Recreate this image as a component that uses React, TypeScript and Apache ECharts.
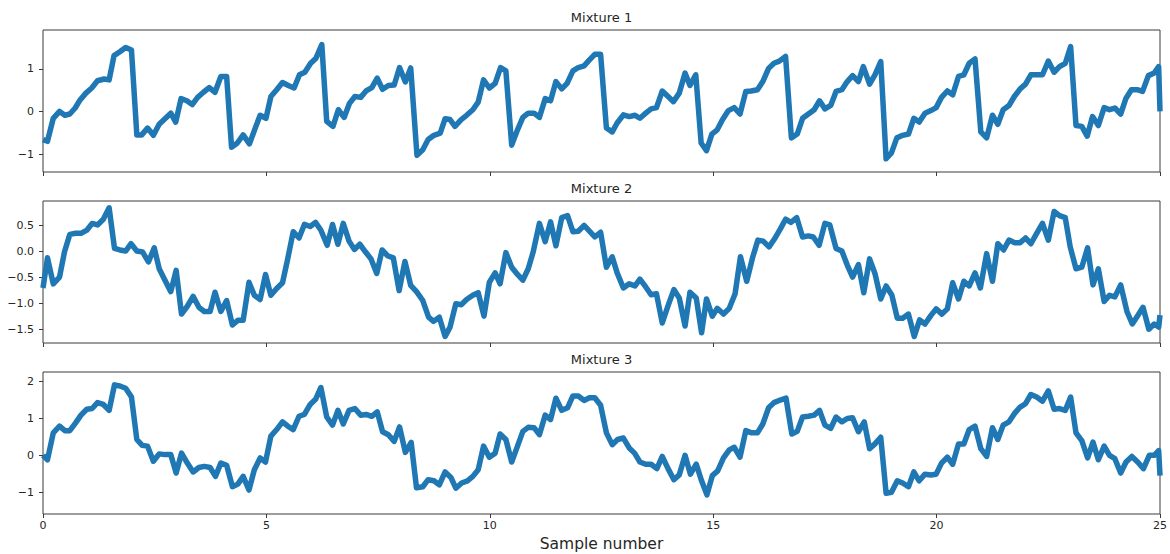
import React, { useEffect, useRef } from "react";
import * as echarts from "echarts";

// Observed mixtures: [time, amplitude]
const mixture1: [number, number][] = [
  [0, -0.66], [0.1, -0.7], [0.23, -0.16], [0.37, 0.0], [0.49, -0.09], [0.6, -0.06], [0.72, 0.08], [0.83, 0.27],
  [0.96, 0.43], [1.09, 0.55], [1.22, 0.72], [1.37, 0.76], [1.48, 0.74], [1.59, 1.31], [1.72, 1.4], [1.85, 1.5],
  [1.98, 1.44], [2.1, -0.55], [2.21, -0.55], [2.34, -0.39], [2.47, -0.56], [2.6, -0.3], [2.73, -0.17], [2.86, -0.04],
  [2.97, -0.25], [3.09, 0.3], [3.22, 0.25], [3.34, 0.16], [3.46, 0.33], [3.59, 0.45], [3.72, 0.56], [3.85, 0.45],
  [3.98, 0.82], [4.11, 0.82], [4.22, -0.84], [4.35, -0.74], [4.48, -0.55], [4.62, -0.76], [4.75, -0.39], [4.86, -0.09],
  [4.99, -0.16], [5.1, 0.35], [5.23, 0.51], [5.36, 0.68], [5.49, 0.61], [5.62, 0.55], [5.74, 0.86], [5.86, 0.92],
  [5.99, 1.13], [6.11, 1.25], [6.24, 1.57], [6.35, -0.23], [6.49, -0.35], [6.61, 0.04], [6.74, -0.14], [6.86, 0.19],
  [6.98, 0.35], [7.11, 0.33], [7.23, 0.48], [7.36, 0.56], [7.48, 0.78], [7.6, 0.52], [7.73, 0.61], [7.86, 0.62],
  [7.98, 1.03], [8.11, 0.69], [8.23, 1.02], [8.37, -1.03], [8.5, -0.9], [8.62, -0.66], [8.75, -0.56], [8.89, -0.51],
  [9.0, -0.17], [9.11, -0.19], [9.22, -0.35], [9.36, -0.19], [9.48, -0.09], [9.62, 0.04], [9.74, 0.22], [9.86, 0.74],
  [9.99, 0.55], [10.12, 0.66], [10.24, 1.03], [10.36, 0.95], [10.49, -0.79], [10.62, -0.43], [10.74, -0.14], [10.86, -0.04],
  [10.99, -0.04], [11.11, -0.14], [11.24, 0.3], [11.36, 0.25], [11.48, 0.7], [11.61, 0.53], [11.73, 0.66], [11.86, 0.95],
  [11.98, 1.03], [12.11, 1.07], [12.23, 1.21], [12.35, 1.34], [12.48, 1.34], [12.61, -0.39], [12.74, -0.48], [12.85, -0.27],
  [12.99, -0.08], [13.12, -0.12], [13.25, -0.09], [13.36, -0.16], [13.49, -0.04], [13.61, 0.06], [13.73, 0.09], [13.86, 0.48],
  [13.99, 0.35], [14.11, 0.23], [14.24, 0.43], [14.37, 0.9], [14.48, 0.61], [14.61, 0.86], [14.73, -0.74], [14.85, -0.92],
  [14.97, -0.53], [15.09, -0.43], [15.21, -0.19], [15.34, 0.02], [15.47, 0.09], [15.6, -0.06], [15.73, 0.47], [15.85, 0.48],
  [15.99, 0.51], [16.11, 0.7], [16.24, 1.01], [16.36, 1.13], [16.48, 1.18], [16.62, 1.29], [16.75, -0.62], [16.88, -0.53],
  [17.0, -0.16], [17.13, -0.06], [17.26, 0.04], [17.38, 0.25], [17.5, 0.06], [17.63, 0.14], [17.75, 0.47], [17.88, 0.51],
  [18.0, 0.7], [18.12, 0.84], [18.25, 0.7], [18.36, 1.05], [18.5, 0.64], [18.62, 0.86], [18.75, 1.17], [18.87, -1.11],
  [18.99, -0.97], [19.11, -0.62], [19.24, -0.56], [19.37, -0.53], [19.49, -0.16], [19.61, -0.25], [19.74, -0.04], [19.87, 0.02],
  [19.99, 0.09], [20.11, 0.33], [20.24, 0.48], [20.36, 0.39], [20.49, 0.82], [20.61, 0.86], [20.73, 1.13], [20.86, 1.23],
  [20.99, -0.48], [21.12, -0.62], [21.25, -0.09], [21.37, -0.3], [21.49, 0.04], [21.62, 0.14], [21.74, 0.35], [21.87, 0.53],
  [21.99, 0.64], [22.11, 0.86], [22.24, 0.86], [22.37, 0.86], [22.5, 1.18], [22.63, 0.92], [22.75, 1.05], [22.88, 1.13],
  [23.0, 1.52], [23.12, -0.33], [23.25, -0.35], [23.37, -0.58], [23.49, -0.12], [23.62, -0.33], [23.75, 0.09], [23.87, 0.04],
  [23.99, 0.08], [24.12, -0.06], [24.24, 0.31], [24.36, 0.51], [24.49, 0.51], [24.61, 0.47], [24.74, 0.84], [24.87, 0.9],
  [24.97, 1.05], [25.0, 0.0],
];

const mixture2: [number, number][] = [
  [0, -0.7], [0.1, -0.12], [0.23, -0.62], [0.37, -0.49], [0.48, -0.01], [0.6, 0.33], [0.73, 0.35], [0.85, 0.35],
  [0.98, 0.41], [1.1, 0.54], [1.22, 0.51], [1.35, 0.62], [1.48, 0.84], [1.6, 0.06], [1.72, 0.03], [1.85, 0.01],
  [1.97, 0.15], [2.1, 0.01], [2.23, -0.01], [2.36, -0.2], [2.49, 0.07], [2.6, -0.33], [2.73, -0.55], [2.86, -0.77],
  [2.98, -0.36], [3.1, -1.2], [3.23, -1.05], [3.36, -0.86], [3.49, -1.07], [3.61, -1.15], [3.74, -1.15], [3.85, -0.78],
  [3.98, -1.15], [4.11, -0.94], [4.24, -1.41], [4.36, -1.32], [4.48, -1.32], [4.61, -0.59], [4.73, -0.84], [4.86, -0.92],
  [4.98, -0.44], [5.1, -0.84], [5.23, -0.71], [5.36, -0.6], [5.47, -0.17], [5.6, 0.38], [5.73, 0.26], [5.85, 0.52],
  [5.98, 0.48], [6.1, 0.56], [6.22, 0.41], [6.36, 0.12], [6.48, 0.52], [6.6, 0.14], [6.72, 0.54], [6.85, 0.2],
  [6.97, 0.04], [7.09, 0.14], [7.22, -0.01], [7.34, -0.14], [7.47, -0.42], [7.59, 0.03], [7.71, -0.08], [7.84, -0.12],
  [7.97, -0.75], [8.1, -0.19], [8.23, -0.65], [8.36, -0.77], [8.5, -0.94], [8.63, -1.26], [8.74, -1.34], [8.87, -1.26],
  [9.0, -1.63], [9.11, -1.45], [9.24, -1.0], [9.36, -1.02], [9.48, -0.92], [9.62, -0.84], [9.74, -0.79], [9.87, -1.24],
  [9.99, -0.59], [10.12, -0.41], [10.23, -0.62], [10.36, -0.02], [10.49, -0.3], [10.62, -0.44], [10.74, -0.55], [10.86, -0.33],
  [10.97, -0.01], [11.11, 0.54], [11.24, 0.19], [11.36, 0.57], [11.48, 0.11], [11.61, 0.65], [11.74, 0.69], [11.86, 0.38],
  [11.98, 0.39], [12.11, 0.5], [12.23, 0.39], [12.35, 0.28], [12.48, 0.37], [12.61, -0.3], [12.74, -0.1], [12.85, -0.41],
  [12.99, -0.7], [13.12, -0.62], [13.25, -0.66], [13.36, -0.53], [13.49, -0.68], [13.61, -0.83], [13.73, -0.81], [13.86, -1.37],
  [13.99, -1.04], [14.12, -0.73], [14.24, -0.89], [14.37, -1.43], [14.48, -0.78], [14.62, -0.89], [14.74, -1.56], [14.85, -0.91],
  [14.98, -1.24], [15.09, -1.09], [15.23, -1.2], [15.36, -1.09], [15.49, -0.81], [15.61, -0.1], [15.75, -0.57], [15.88, -0.12],
  [16.0, 0.22], [16.12, 0.2], [16.25, 0.09], [16.37, 0.24], [16.5, 0.43], [16.62, 0.62], [16.74, 0.56], [16.87, 0.65],
  [17.0, 0.28], [17.13, 0.3], [17.24, 0.28], [17.37, 0.12], [17.5, 0.54], [17.61, 0.51], [17.75, 0.06], [17.88, 0.01],
  [18.0, -0.26], [18.12, -0.49], [18.25, -0.25], [18.37, -0.79], [18.5, -0.14], [18.62, -0.42], [18.75, -0.91], [18.87, -0.66],
  [19.0, -0.84], [19.12, -1.28], [19.24, -1.28], [19.37, -1.2], [19.5, -1.63], [19.62, -1.31], [19.74, -1.39], [19.87, -1.23],
  [19.99, -1.1], [20.12, -1.2], [20.24, -1.1], [20.36, -0.6], [20.49, -0.91], [20.61, -0.57], [20.73, -0.66], [20.86, -0.41],
  [20.98, -0.7], [21.12, -0.04], [21.25, -0.57], [21.37, 0.15], [21.5, 0.03], [21.62, 0.22], [21.75, 0.17], [21.87, 0.17],
  [21.99, 0.26], [22.11, 0.15], [22.24, 0.35], [22.37, 0.54], [22.5, 0.22], [22.63, 0.77], [22.75, 0.69], [22.88, 0.65],
  [22.99, 0.09], [23.12, -0.33], [23.25, -0.3], [23.38, 0.07], [23.5, -0.64], [23.62, -0.33], [23.75, -0.96], [23.87, -0.84],
  [23.99, -0.87], [24.12, -0.64], [24.26, -1.15], [24.38, -1.39], [24.5, -1.23], [24.62, -1.07], [24.75, -1.49], [24.87, -1.39],
  [24.97, -1.45], [25.0, -1.22],
];

const mixture3: [number, number][] = [
  [0, 0.0], [0.1, -0.12], [0.23, 0.61], [0.37, 0.79], [0.49, 0.67], [0.6, 0.67], [0.73, 0.88], [0.85, 1.09],
  [0.98, 1.25], [1.1, 1.27], [1.22, 1.43], [1.35, 1.38], [1.48, 1.22], [1.6, 1.91], [1.72, 1.88], [1.85, 1.82],
  [1.98, 1.58], [2.1, 0.43], [2.22, 0.27], [2.34, 0.25], [2.47, -0.16], [2.6, 0.04], [2.73, 0.02], [2.86, 0.02],
  [2.98, -0.48], [3.1, 0.06], [3.23, -0.21], [3.36, -0.45], [3.49, -0.33], [3.61, -0.3], [3.74, -0.33], [3.86, -0.57],
  [3.98, -0.21], [4.11, -0.27], [4.24, -0.85], [4.36, -0.78], [4.48, -0.57], [4.61, -0.94], [4.73, -0.39], [4.86, -0.07],
  [4.98, -0.18], [5.1, 0.52], [5.23, 0.7], [5.36, 0.91], [5.48, 0.79], [5.6, 0.7], [5.73, 1.06], [5.85, 1.11],
  [5.98, 1.38], [6.1, 1.52], [6.22, 1.84], [6.35, 1.04], [6.48, 0.82], [6.6, 1.22], [6.72, 0.85], [6.85, 1.22],
  [6.98, 1.27], [7.11, 1.09], [7.23, 1.11], [7.36, 1.06], [7.48, 1.18], [7.6, 0.64], [7.73, 0.56], [7.86, 0.38],
  [7.98, 0.77], [8.11, 0.08], [8.24, 0.35], [8.36, -0.88], [8.5, -0.85], [8.62, -0.66], [8.75, -0.69], [8.87, -0.8],
  [9.0, -0.45], [9.13, -0.6], [9.24, -0.89], [9.37, -0.75], [9.5, -0.69], [9.62, -0.57], [9.74, -0.39], [9.86, 0.25],
  [9.99, -0.05], [10.12, 0.06], [10.23, 0.58], [10.36, 0.43], [10.49, -0.18], [10.62, 0.25], [10.74, 0.65], [10.86, 0.76],
  [10.99, 0.75], [11.11, 0.56], [11.24, 1.09], [11.36, 0.97], [11.48, 1.55], [11.61, 1.22], [11.74, 1.29], [11.86, 1.61],
  [11.98, 1.61], [12.11, 1.49], [12.23, 1.56], [12.35, 1.56], [12.48, 1.36], [12.61, 0.61], [12.74, 0.29], [12.86, 0.43],
  [12.99, 0.47], [13.12, 0.2], [13.24, 0.06], [13.36, -0.18], [13.49, -0.24], [13.61, -0.24], [13.74, -0.36], [13.86, -0.03],
  [13.99, -0.36], [14.12, -0.66], [14.24, -0.53], [14.37, 0.0], [14.49, -0.51], [14.62, -0.24], [14.74, -0.69], [14.86, -1.07],
  [14.98, -0.55], [15.1, -0.42], [15.23, -0.07], [15.36, 0.15], [15.47, 0.22], [15.6, -0.05], [15.73, 0.67], [15.86, 0.61],
  [15.99, 0.61], [16.11, 0.85], [16.24, 1.29], [16.36, 1.43], [16.5, 1.5], [16.63, 1.55], [16.76, 0.58], [16.88, 0.65],
  [17.0, 1.04], [17.13, 1.06], [17.26, 1.09], [17.38, 1.22], [17.5, 0.82], [17.63, 0.73], [17.75, 1.04], [17.88, 0.91],
  [18.0, 1.0], [18.12, 1.02], [18.25, 0.64], [18.38, 0.91], [18.5, 0.18], [18.62, 0.31], [18.75, 0.49], [18.87, -1.03],
  [18.99, -1.0], [19.12, -0.69], [19.24, -0.75], [19.37, -0.85], [19.49, -0.45], [19.61, -0.69], [19.74, -0.51], [19.87, -0.53],
  [19.99, -0.51], [20.11, -0.21], [20.24, -0.05], [20.36, -0.24], [20.49, 0.31], [20.61, 0.31], [20.73, 0.7], [20.86, 0.79],
  [20.99, 0.18], [21.12, -0.03], [21.25, 0.75], [21.37, 0.43], [21.49, 0.82], [21.62, 0.91], [21.74, 1.13], [21.87, 1.31],
  [21.99, 1.4], [22.11, 1.65], [22.24, 1.58], [22.37, 1.47], [22.5, 1.75], [22.63, 1.25], [22.75, 1.27], [22.88, 1.22],
  [23.0, 1.58], [23.12, 0.61], [23.25, 0.4], [23.38, -0.07], [23.5, 0.36], [23.62, -0.12], [23.75, 0.25], [23.87, 0.0],
  [23.99, -0.09], [24.12, -0.48], [24.24, -0.18], [24.37, -0.03], [24.5, -0.18], [24.63, -0.36], [24.76, 0.0], [24.87, 0.0],
  [24.97, 0.13], [25.0, -0.55],
];

const panelTitles = ["Mixture 1", "Mixture 2", "Mixture 3"];
const xTicks = [0, 5, 10, 15, 20, 25];
const yTicks1 = [-1, 0, 1];
const yTicks2 = [-1.5, -1.0, -0.5, 0.0, 0.5];
const yTicks3 = [-1, 0, 1, 2];
const yRange1 = [-1.42, 1.91];
const yRange2 = [-1.755, 0.97];
const yRange3 = [-1.59, 2.26];
const xLabel = "Sample number";

const FONT = "DejaVu Sans";
const INK = "#262626";
const SPINE = "#3a3a3a";
const LINE = "#1f77b4";

const PLOT_LEFT = 43;
const PLOT_WIDTH = 1117;
const PLOT_HEIGHT = 142;
const PLOT_TOPS = [30, 201, 372];

const minus = (s: string) => s.replace("-", "\u2212");

export default function App() {
  const ref = useRef<HTMLDivElement>(null);

  useEffect(() => {
    if (!ref.current) return;
    const chart = echarts.init(ref.current, undefined, { renderer: "svg" });

    const series = [mixture1, mixture2, mixture3];
    const yTicks = [yTicks1, yTicks2, yTicks3];
    const yRanges = [yRange1, yRange2, yRange3];
    const decimals = [0, 1, 0];

    const grid = PLOT_TOPS.map((top) => ({
      left: PLOT_LEFT,
      top,
      width: PLOT_WIDTH,
      height: PLOT_HEIGHT,
      show: true,
      borderColor: SPINE,
      borderWidth: 1,
      backgroundColor: "transparent",
      containLabel: false,
    }));

    const xAxis = PLOT_TOPS.map((_, i) => ({
      type: "value",
      gridIndex: i,
      position: "bottom",
      min: 0,
      max: 25,
      interval: 5,
      axisLine: { show: false, onZero: false },
      splitLine: { show: false },
      axisTick: {
        show: true,
        inside: false,
        length: 4,
        customValues: xTicks,
        lineStyle: { color: SPINE, width: 1 },
      },
      axisLabel: {
        show: i === 2,
        margin: 6,
        customValues: xTicks,
        fontFamily: FONT,
        fontSize: 11,
        color: INK,
        formatter: (v: number) => String(v),
      },
    }));

    const yAxis = PLOT_TOPS.map((_, i) => ({
      type: "value",
      gridIndex: i,
      position: "left",
      min: yRanges[i][0],
      max: yRanges[i][1],
      axisLine: { show: false, onZero: false },
      splitLine: { show: false },
      axisTick: {
        show: true,
        inside: false,
        length: 4,
        customValues: yTicks[i],
        lineStyle: { color: SPINE, width: 1 },
      },
      axisLabel: {
        show: true,
        margin: 9,
        customValues: yTicks[i],
        fontFamily: FONT,
        fontSize: 11,
        color: INK,
        formatter: (v: number) => minus(v.toFixed(decimals[i])),
      },
    }));

    const lineSeries = series.map((data, i) => ({
      type: "line",
      xAxisIndex: i,
      yAxisIndex: i,
      data,
      showSymbol: false,
      symbol: "none",
      clip: true,
      lineStyle: { color: LINE, width: 5.5, join: "round", cap: "butt" },
    }));

    const centerX = PLOT_LEFT + PLOT_WIDTH / 2;
    const titles = panelTitles.map((t, i) => ({
      type: "text",
      x: centerX,
      y: PLOT_TOPS[i] - 12.5,
      style: {
        text: t,
        textAlign: "center",
        textVerticalAlign: "middle",
        fontFamily: FONT,
        fontSize: 13,
        fill: INK,
      },
    }));

    chart.setOption({
      animation: false,
      backgroundColor: "#ffffff",
      grid,
      xAxis,
      yAxis,
      series: lineSeries,
      graphic: [
        ...titles,
        {
          type: "text",
          x: centerX,
          y: 543.5,
          style: {
            text: xLabel,
            textAlign: "center",
            textVerticalAlign: "middle",
            fontFamily: FONT,
            fontSize: 15.5,
            fill: INK,
          },
        },
      ],
    });

    return () => chart.dispose();
  }, []);

  return (
    <div
      ref={ref}
      style={{ position: "fixed", left: 0, top: 0, width: 1170, height: 554 }}
    />
  );
}
